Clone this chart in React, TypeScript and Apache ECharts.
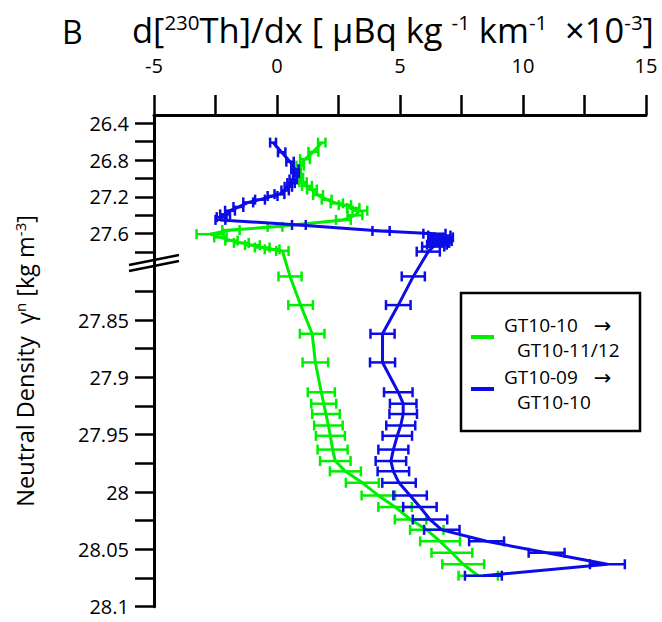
import React, { useEffect, useRef } from "react";
import * as echarts from "echarts";

// ---------- data (neutral density, d[230Th]/dx value, error half-width) ----------
const greenDensity = [
  26.61, 26.71, 26.79, 26.86, 26.93, 26.99, 27.04, 27.08, 27.12, 27.18, 27.23, 27.27, 27.29, 27.32, 27.35,
  27.4, 27.45, 27.525, 27.56, 27.605, 27.64, 27.675, 27.7, 27.725, 27.75, 27.77, 27.787,
  27.812, 27.837, 27.862, 27.887, 27.913, 27.923, 27.932, 27.942, 27.951, 27.963, 27.973, 27.982, 27.992,
  28.003, 28.013, 28.024, 28.033, 28.043, 28.053, 28.063, 28.073,
];
const greenValue = [
  1.82, 1.48, 1.14, 0.94, 0.85, 0.94, 1.06, 1.22, 1.42, 1.67, 2.02, 2.43, 2.76, 3.1, 3.37,
  3.17, 2.7, -0.08, -1.87, -2.72, -2.3, -1.85, -1.45, -1.0, -0.6, -0.2, 0.22,
  0.53, 0.96, 1.43, 1.56, 1.8, 1.9, 1.99, 2.09, 2.17, 2.26, 2.37, 2.78, 3.47,
  4.12, 4.8, 5.43, 6.09, 6.63, 7.11, 7.57, 8.18,
];
const greenError = [
  0.15, 0.2, 0.2, 0.15, 0.12, 0.12, 0.15, 0.2, 0.2, 0.2, 0.2, 0.25, 0.25, 0.25, 0.3,
  0.3, 0.3, 0.3, 0.35, 0.55, 0.25, 0.25, 0.3, 0.3, 0.3, 0.3, 0.25,
  0.47, 0.5, 0.5, 0.52, 0.55, 0.51, 0.56, 0.58, 0.59, 0.61, 0.62, 0.63, 0.67,
  0.68, 0.68, 0.64, 0.68, 0.81, 0.83, 0.85, 0.8,
];

const blueDensity = [
  26.61, 26.715, 26.817, 26.9, 26.94, 27.01, 27.05, 27.09, 27.13, 27.17, 27.19, 27.23, 27.26, 27.31, 27.35,
  27.39, 27.42, 27.45, 27.505, 27.57, 27.6, 27.62, 27.64, 27.66, 27.68, 27.7, 27.72, 27.74, 27.795,
  27.812, 27.837, 27.862, 27.887, 27.913, 27.923, 27.932, 27.942, 27.951, 27.963, 27.973, 27.982, 27.992,
  28.003, 28.013, 28.024, 28.033, 28.043, 28.053, 28.063, 28.073,
];
const blueValue = [
  -0.16, 0.19, 0.53, 0.73, 0.77, 0.66, 0.57, 0.46, 0.33, 0.1, -0.18, -0.69, -1.17, -1.57, -1.91,
  -2.11, -2.25, -2.3, 0.89, 4.23, 6.4, 6.6, 6.7, 6.6, 6.7, 6.6, 6.5, 6.35, 6.15,
  5.54, 4.93, 4.29, 4.29, 4.93, 5.13, 5.13, 5.03, 4.89, 4.73, 4.63, 4.73, 4.96,
  5.41, 5.81, 6.22, 6.7, 8.52, 10.96, 13.43, 8.39,
];
const blueError = [
  0.12, 0.15, 0.15, 0.15, 0.12, 0.15, 0.15, 0.15, 0.15, 0.2, 0.2, 0.2, 0.2, 0.2, 0.2,
  0.2, 0.2, 0.2, 0.28, 0.35, 0.45, 0.45, 0.45, 0.45, 0.4, 0.4, 0.4, 0.45, 0.47,
  0.47, 0.5, 0.49, 0.51, 0.58, 0.54, 0.56, 0.59, 0.6, 0.61, 0.62, 0.64, 0.68,
  0.68, 0.68, 0.7, 0.72, 0.71, 0.73, 0.71, 0.75,
];

const xTickValues = [-5, -2.5, 0, 2.5, 5, 7.5, 10, 12.5, 15];
const xLabelValues = [-5, 0, 5, 10, 15];
const yTickDensities = [
  26.4, 26.6, 26.8, 27.0, 27.2, 27.4, 27.6, 27.8,
  27.825, 27.85, 27.875, 27.9, 27.925, 27.95, 27.975, 28.0, 28.025, 28.05, 28.075, 28.1,
];
const yLabelDensities = [26.4, 26.8, 27.2, 27.6, 27.85, 27.9, 27.95, 28.0, 28.05, 28.1];
const yLabelTexts = ["26.4", "26.8", "27.2", "27.6", "27.85", "27.9", "27.95", "28", "28.05", "28.1"];

const GREEN = "#00ee00";
const BLUE = "#0c0ce6";
const FONT = "'Open Sans', 'DejaVu Sans', sans-serif";

// broken density axis: upper segment (26.3 - 27.8) and expanded lower segment (27.8 - 28.1)
const BREAK_AT = 27.8;
function scaleDensity(d: number): number {
  return d <= BREAK_AT ? 123.3 + (d - 26.4) * 92 : 320 + (d - 27.85) * 1146.7;
}

function buildData(dens: number[], vals: number[], errs: number[]) {
  return dens.map((d, i) => [vals[i], scaleDensity(d), errs[i]]);
}

function errorBars(name: string, color: string, data: number[][]) {
  return {
    type: "custom",
    name,
    data,
    encode: { x: 0, y: 1 },
    z: 3,
    renderItem: (_params: any, api: any) => {
      const x = api.value(0);
      const y = api.value(1);
      const e = api.value(2);
      const p1 = api.coord([x - e, y]);
      const p2 = api.coord([x + e, y]);
      const h = 5;
      const style = { stroke: color, lineWidth: 2.5 };
      return {
        type: "group",
        children: [
          { type: "line", shape: { x1: p1[0], y1: p1[1], x2: p2[0], y2: p2[1] }, style },
          { type: "line", shape: { x1: p1[0], y1: p1[1] - h, x2: p1[0], y2: p1[1] + h }, style },
          { type: "line", shape: { x1: p2[0], y1: p2[1] - h, x2: p2[0], y2: p2[1] + h }, style },
        ],
      };
    },
  };
}

export default function App() {
  const ref = useRef<HTMLDivElement>(null);
  useEffect(() => {
    if (!ref.current) return;
    const chart = echarts.init(ref.current, undefined, { renderer: "svg" });
    const greenData = buildData(greenDensity, greenValue, greenError);
    const blueData = buildData(blueDensity, blueValue, blueError);
    const txt = { fontFamily: FONT, color: "#000", fontWeight: "normal" };
    chart.setOption({
      animation: false,
      backgroundColor: "#fff",
      title: [
        {
          text: "B",
          left: 57,
          top: 10,
          textStyle: { fontSize: 32, ...txt },
        },
        {
          text: "{n|d[}{s|230}{n|Th]/dx [ µBq kg }{s|-1}{n| km}{s|-1}{n|  ×10}{s|-3}{n|]}",
          left: 127,
          top: 6,
          textStyle: {
            fontWeight: "normal",
            rich: {
              n: { fontSize: 34.5, ...txt },
              s: { fontSize: 20.5, padding: [0, 0, 15, 0], ...txt },
            },
          },
        },
      ],
      grid: { left: 154, right: 16, top: 115, bottom: 15.3, outerBoundsMode: "none" },
      xAxis: {
        type: "value",
        position: "top",
        min: -5,
        max: 15,
        splitLine: { show: false },
        axisLine: { show: true, onZero: false, lineStyle: { color: "#000", width: 3 } },
        axisTick: {
          show: true,
          length: 20,
          lineStyle: { color: "#000", width: 2.5 },
          customValues: xTickValues,
        },
        axisLabel: {
          customValues: xLabelValues,
          fontSize: 20,
          ...txt,
          margin: 40,
        },
      },
      yAxis: {
        type: "value",
        inverse: true,
        min: 115,
        max: 606.7,
        splitLine: { show: false },
        axisLine: { show: true, onZero: false, lineStyle: { color: "#000", width: 3 } },
        axisTick: {
          show: true,
          length: 19,
          lineStyle: { color: "#000", width: 2.5 },
          customValues: yTickDensities.map(scaleDensity),
        },
        axisLabel: {
          customValues: yLabelDensities.map(scaleDensity),
          fontSize: 20,
          ...txt,
          margin: 25,
          formatter: (v: number) => {
            const i = yLabelDensities.findIndex((d) => Math.abs(scaleDensity(d) - v) < 0.5);
            return i >= 0 ? yLabelTexts[i] : "";
          },
        },
        name: "{n|Neutral Density  γ}{s|n}{n| [kg m}{s|-3}{n|]}",
        nameLocation: "middle",
        nameRotate: 90,
        nameGap: 116,
        nameTextStyle: {
          rich: {
            n: { fontSize: 23.5, ...txt },
            s: { fontSize: 15, padding: [0, 0, 11, 0], ...txt },
          },
        },
      },
      legend: {
        orient: "vertical",
        left: 471,
        top: 314,
        padding: 0,
        itemGap: 7,
        itemWidth: 23,
        itemHeight: 4,
        icon: "rect",
        data: ["GT10-10 → GT10-11/12", "GT10-09 → GT10-10"],
        formatter: (name: string) =>
          name.startsWith("GT10-10")
            ? "{a|GT10-10}{r|→}\n{b|GT10-11/12}"
            : "{a|GT10-09}{r|→}\n{b|GT10-10}",
        textStyle: {
          fontSize: 19,
          ...txt,
          rich: {
            a: { fontSize: 19, lineHeight: 25, ...txt, padding: [0, 0, 0, 5] },
            r: { fontSize: 21, lineHeight: 25, ...txt, padding: [0, 0, 0, 16] },
            b: { fontSize: 19, lineHeight: 25, ...txt, padding: [0, 0, 0, 18] },
          },
        },
      },
      graphic: [
        {
          type: "rect",
          shape: { x: 461, y: 293, width: 179, height: 138 },
          style: { fill: "none", stroke: "#000", lineWidth: 2.5 },
          z: 10,
        },
        {
          type: "line",
          shape: { x1: 129, y1: 265, x2: 179, y2: 255 },
          style: { stroke: "#000", lineWidth: 2.5 },
          z: 10,
        },
        {
          type: "line",
          shape: { x1: 129, y1: 271, x2: 179, y2: 261 },
          style: { stroke: "#000", lineWidth: 2.5 },
          z: 10,
        },
      ],
      series: [
        {
          type: "line",
          name: "GT10-10 → GT10-11/12",
          data: greenData.map((p) => [p[0], p[1]]),
          color: GREEN,
          showSymbol: false,
          symbol: "none",
          lineStyle: { color: GREEN, width: 3 },
          z: 2,
        },
        errorBars("green-err", GREEN, greenData),
        {
          type: "line",
          name: "GT10-09 → GT10-10",
          data: blueData.map((p) => [p[0], p[1]]),
          color: BLUE,
          showSymbol: false,
          symbol: "none",
          lineStyle: { color: BLUE, width: 3 },
          z: 4,
        },
        errorBars("blue-err", BLUE, blueData),
      ],
    });
    return () => chart.dispose();
  }, []);
  return (
    <div
      ref={ref}
      style={{ position: "fixed", left: 0, top: 0, width: 662, height: 622, background: "#fff" }}
    />
  );
}
